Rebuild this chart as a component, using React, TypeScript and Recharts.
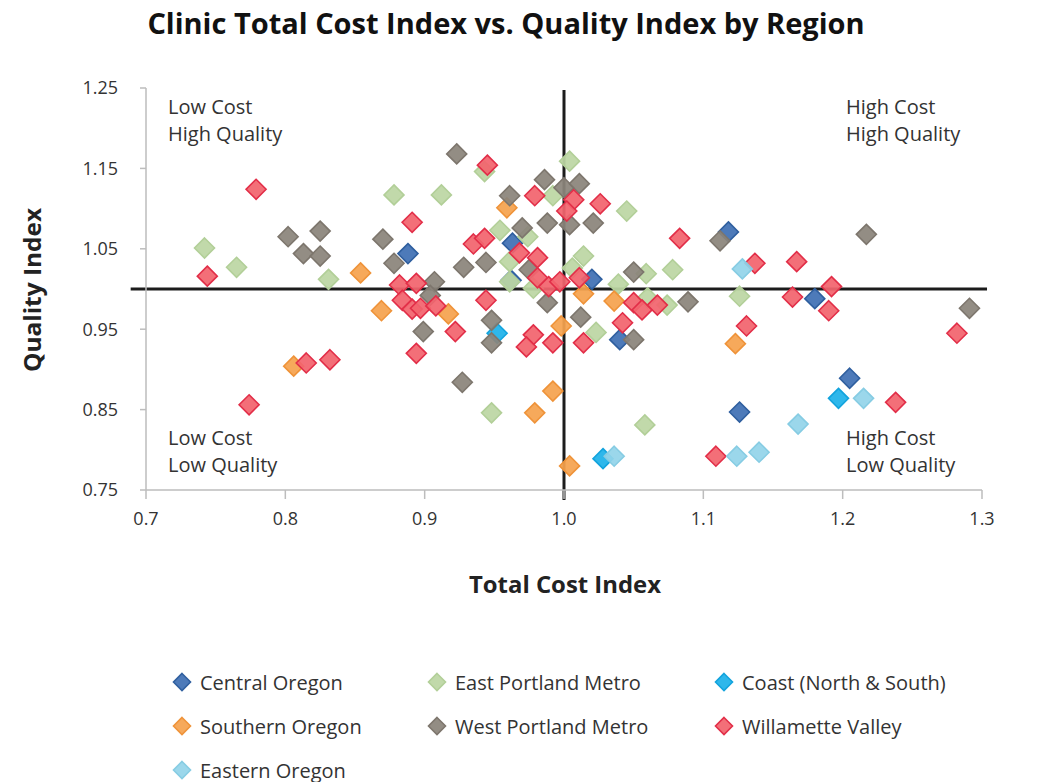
import { ScatterChart, Scatter, XAxis, YAxis, ReferenceLine } from 'recharts'

type Pt = [number, number] // [total cost index, quality index]

const X_TICKS = [0.7, 0.8, 0.9, 1.0, 1.1, 1.2, 1.3]
const Y_TICKS = [0.75, 0.85, 0.95, 1.05, 1.15, 1.25]

const CENTRAL_OREGON: Pt[] = [
  [0.888, 1.044], [0.963, 1.057], [0.962, 1.011], [1.02, 1.012], [1.04, 0.937],
  [1.118, 1.071], [1.18, 0.988], [1.205, 0.889], [1.126, 0.847],
]

const EAST_PORTLAND: Pt[] = [
  [0.742, 1.051], [0.765, 1.027], [0.831, 1.012], [0.878, 1.117], [0.912, 1.117],
  [0.943, 1.146], [1.004, 1.159], [0.992, 1.116], [1.045, 1.097], [0.954, 1.073],
  [0.974, 1.065], [1.014, 1.041], [1.006, 1.026], [1.078, 1.024], [1.059, 1.019],
  [1.039, 1.006], [0.961, 1.034], [0.961, 1.009], [1.126, 0.991], [1.06, 0.989],
  [1.074, 0.98], [1.023, 0.946], [0.948, 0.846], [1.058, 0.831], [0.978, 1.001],
]

const COAST: Pt[] = [
  [0.952, 0.945], [1.028, 0.789], [1.197, 0.864],
]

const SOUTHERN_OREGON: Pt[] = [
  [0.854, 1.02], [0.869, 0.973], [0.806, 0.904], [0.959, 1.101], [0.917, 0.969],
  [0.998, 0.954], [0.992, 0.873], [0.979, 0.846], [1.004, 0.78], [1.014, 0.994],
  [1.036, 0.985], [1.123, 0.932],
]

const WEST_PORTLAND: Pt[] = [
  [0.802, 1.065], [0.825, 1.072], [0.813, 1.044], [0.825, 1.041], [0.87, 1.062],
  [0.878, 1.032], [0.923, 1.168], [0.986, 1.136], [1.0, 1.126], [1.011, 1.131],
  [0.961, 1.116], [0.97, 1.076], [0.988, 1.082], [1.004, 1.08], [1.021, 1.082],
  [0.928, 1.027], [0.944, 1.033], [0.975, 1.024], [1.05, 1.021], [0.907, 1.009],
  [1.112, 1.06], [1.217, 1.068], [1.291, 0.976], [1.089, 0.984], [0.988, 0.983],
  [0.904, 0.992], [0.948, 0.961], [0.899, 0.947], [0.948, 0.933], [1.012, 0.965],
  [1.05, 0.937], [0.927, 0.884],
]

const WILLAMETTE: Pt[] = [
  [0.779, 1.124], [0.744, 1.016], [0.891, 1.083], [0.774, 0.856], [0.815, 0.908],
  [0.832, 0.912], [0.894, 0.92], [0.882, 1.005], [0.894, 1.007], [0.884, 0.986],
  [0.891, 0.975], [0.897, 0.976], [0.908, 0.979], [0.922, 0.947], [0.944, 0.986],
  [0.935, 1.056], [0.943, 1.063], [0.968, 1.045], [0.945, 1.154], [0.979, 1.116],
  [1.007, 1.111], [1.002, 1.097], [1.026, 1.106], [0.981, 1.039], [0.981, 1.014],
  [0.989, 1.003], [0.997, 1.009], [1.011, 1.014], [1.05, 0.983], [1.056, 0.974],
  [1.067, 0.98], [1.042, 0.958], [0.978, 0.943], [0.973, 0.928], [0.992, 0.933],
  [1.014, 0.933], [1.109, 0.792], [1.083, 1.063], [1.137, 1.032], [1.167, 1.034],
  [1.192, 1.003], [1.164, 0.99], [1.19, 0.973], [1.131, 0.954], [1.282, 0.945],
  [1.238, 0.859],
]

const EASTERN_OREGON: Pt[] = [
  [1.036, 0.792], [1.128, 1.025], [1.215, 0.864], [1.168, 0.832], [1.124, 0.792],
  [1.14, 0.797],
]

// legend is laid out row-major in three columns, same as draw order
const SERIES = [
  { name: 'Central Oregon', points: CENTRAL_OREGON, fill: '#3f70b4', stroke: '#2f5f9f' },
  { name: 'East Portland Metro', points: EAST_PORTLAND, fill: '#bcd6a4', stroke: '#b2cf98' },
  { name: 'Coast (North & South)', points: COAST, fill: '#1eb1ea', stroke: '#12a3dd' },
  { name: 'Southern Oregon', points: SOUTHERN_OREGON, fill: '#f5a24f', stroke: '#ef9339' },
  { name: 'West Portland Metro', points: WEST_PORTLAND, fill: '#8b847b', stroke: '#7d766d' },
  { name: 'Willamette Valley', points: WILLAMETTE, fill: '#f2646e', stroke: '#e22e48' },
  { name: 'Eastern Oregon', points: EASTERN_OREGON, fill: '#93d4e9', stroke: '#86cce3' },
]

const FONT = '"Open Sans", sans-serif'
const AXIS_GRAY = '#bdbdbd'

function Diamond({ cx, cy, fill, stroke, r = 10 }: { cx?: number; cy?: number; fill: string; stroke: string; r?: number }) {
  if (cx == null || cy == null) return null
  return (
    <polygon
      points={`${cx},${cy - r} ${cx + r},${cy} ${cx},${cy + r} ${cx - r},${cy}`}
      fill={fill}
      fillOpacity={0.93}
      stroke={stroke}
      strokeWidth={1.6}
    />
  )
}

function QuadrantLabel({ left, top, lines }: { left: number; top: number; lines: string[] }) {
  return (
    <div style={{ position: 'absolute', left, top, fontSize: 20, lineHeight: '27px', color: '#333' }}>
      {lines.map((l) => (
        <div key={l}>{l}</div>
      ))}
    </div>
  )
}

export default function App() {
  return (
    <div style={{ position: 'relative', width: 1038, height: 774, fontFamily: FONT, background: '#fff' }}>
      <div
        style={{
          position: 'absolute',
          left: 0,
          top: -3,
          width: 996,
          textAlign: 'center',
          fontSize: 29,
          lineHeight: '36px',
          fontWeight: 700,
          letterSpacing: 0,
          color: '#111',
          whiteSpace: 'nowrap',
        }}
      >
        Clinic Total Cost Index vs. Quality Index by Region
      </div>

      <ScatterChart width={1038} height={560} margin={{ top: 80, right: 64, left: 0, bottom: 48 }}>
        <XAxis
          type="number"
          dataKey="x"
          domain={[0.7, 1.3]}
          ticks={X_TICKS}
          tickFormatter={(v: number) => v.toFixed(1)}
          allowDataOverflow
          height={30}
          tick={{ fontSize: 18, fill: '#333', fontFamily: FONT }}
          axisLine={{ stroke: AXIS_GRAY, strokeWidth: 1.5 }}
          tickLine={{ stroke: AXIS_GRAY, strokeWidth: 1.5 }}
          tickSize={9}
          tickMargin={13}
        />
        <YAxis
          type="number"
          dataKey="y"
          domain={[0.75, 1.25]}
          ticks={Y_TICKS}
          tickFormatter={(v: number) => v.toFixed(2)}
          allowDataOverflow
          width={138}
          tick={{ fontSize: 18, fill: '#333', fontFamily: FONT }}
          axisLine={{ stroke: AXIS_GRAY, strokeWidth: 1.5 }}
          tickLine={{ stroke: AXIS_GRAY, strokeWidth: 1.5 }}
          tickSize={6}
          tickMargin={22}
        />
        {SERIES.map((s) => (
          <Scatter
            key={s.name}
            name={s.name}
            data={s.points.map(([x, y]) => ({ x, y }))}
            isAnimationActive={false}
            shape={(p: any) => <Diamond cx={p.cx} cy={p.cy} fill={s.fill} stroke={s.stroke} />}
          />
        ))}
        {/* quadrant cross, drawn a little past the plot edges like the original */}
        <ReferenceLine
          segment={[{ x: 0.689, y: 1 }, { x: 1.3036, y: 1 }]}
          ifOverflow="visible"
          stroke="#1c1c1c"
          strokeWidth={3}
        />
        <ReferenceLine
          segment={[{ x: 1, y: 1.2475 }, { x: 1, y: 0.7375 }]}
          ifOverflow="visible"
          stroke="#1c1c1c"
          strokeWidth={3}
        />
      </ScatterChart>

      <svg width={1038} height={620} style={{ position: 'absolute', left: 0, top: 0, pointerEvents: 'none' }}>
        <text
          x={557}
          y={585}
          textAnchor="middle"
          fontSize={24}
          fontWeight={700}
          fill="#222"
          textLength={192}
          lengthAdjust="spacingAndGlyphs"
        >
          Total Cost Index
        </text>
        <text
          x={0}
          y={0}
          transform="translate(33 282) rotate(-90)"
          textAnchor="middle"
          fontSize={24}
          fontWeight={700}
          fill="#222"
          textLength={164}
          lengthAdjust="spacingAndGlyphs"
        >
          Quality Index
        </text>
      </svg>

      <QuadrantLabel left={160} top={85} lines={['Low Cost', 'High Quality']} />
      <QuadrantLabel left={838} top={85} lines={['High Cost', 'High Quality']} />
      <QuadrantLabel left={160} top={416} lines={['Low Cost', 'Low Quality']} />
      <QuadrantLabel left={838} top={416} lines={['High Cost', 'Low Quality']} />

      {/* Legend */}
      <div
        style={{
          position: 'absolute',
          left: 164,
          top: 660,
          display: 'grid',
          gridTemplateColumns: '255px 287px 300px',
          rowGap: 16,
        }}
      >
        {SERIES.map((s) => (
          <div key={s.name} style={{ display: 'flex', alignItems: 'center', height: 28 }}>
            <svg width={20} height={22} style={{ flexShrink: 0 }}>
              <Diamond cx={10} cy={11} r={8.5} fill={s.fill} stroke={s.stroke} />
            </svg>
            <span style={{ marginLeft: 8, fontSize: 20, color: '#333' }}>{s.name}</span>
          </div>
        ))}
      </div>
    </div>
  )
}
